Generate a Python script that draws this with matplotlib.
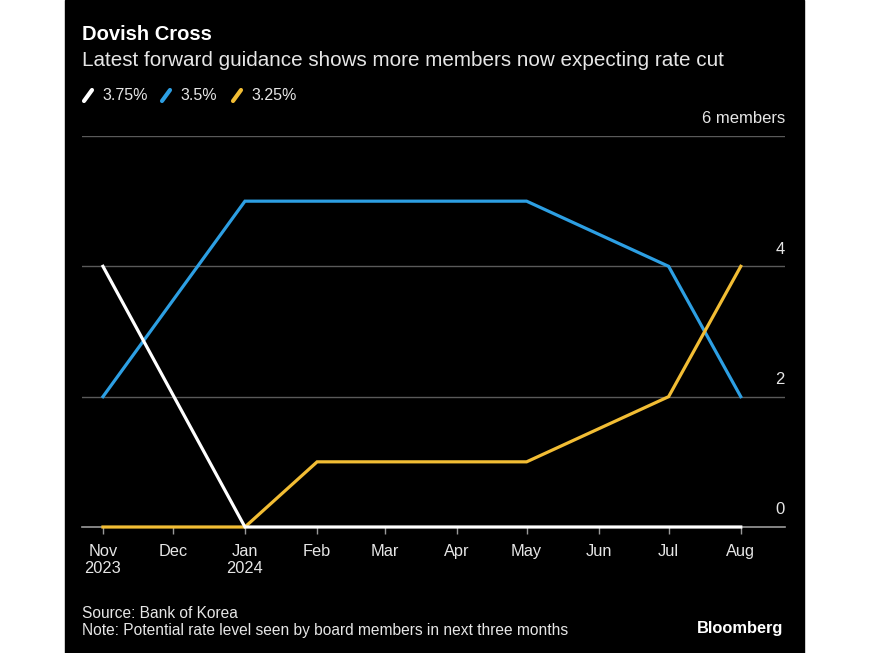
import matplotlib
matplotlib.use("Agg")
import matplotlib.pyplot as plt
from matplotlib.lines import Line2D
import numpy as np

plt.rcParams['font.family'] = ['Liberation Sans', 'DejaVu Sans']

months = np.array(['2023-11-01', '2024-01-01', '2024-02-01', '2024-04-01',
                   '2024-05-01', '2024-07-01', '2024-08-01'], dtype='datetime64[D]')
rate_375 = [4, 0, 0, 0, 0, 0, 0]
rate_350 = [2, 5, 5, 5, 5, 4, 2]
rate_325 = [0, 0, 1, 1, 1, 2, 4]

tick_months = np.arange(np.datetime64('2023-11'), np.datetime64('2024-09'),
                        dtype='datetime64[M]').astype('datetime64[D]')
tick_labels = ['Nov\n2023', 'Dec', 'Jan\n2024', 'Feb', 'Mar', 'Apr',
               'May', 'Jun', 'Jul', 'Aug']
y_ticks = [0, 2, 4, 6]
y_labels = ['0', '2', '4', '6 members']

BG = '#000000'
WHITE = '#ffffff'
BLUE = '#2d9fe3'
YELLOW = '#f2bd34'
GRID = '#5a5a5a'
TXT = '#e6e6e6'

W, H = 870, 653
fig = plt.figure(figsize=(W / 100, H / 100), dpi=100, facecolor='white')
# black panel
fig.patches.append(plt.Rectangle((65 / W, 0), (804 - 65) / W, 1,
                                 transform=fig.transFigure, color=BG, zorder=-5))

ax = fig.add_axes([82 / W, (H - 527) / H, (785 - 82) / W, (527 - 136) / H])
ax.set_facecolor('none')
ax.set_zorder(2)

ax.plot(months, rate_350, color=BLUE, lw=2.3, zorder=3, clip_on=False,
        solid_joinstyle='miter')
ax.plot(months, rate_325, color=YELLOW, lw=2.3, zorder=4, clip_on=False,
        solid_joinstyle='miter')
ax.plot(months, rate_375, color=WHITE, lw=2.3, zorder=5, clip_on=False,
        solid_joinstyle='miter')

ax.set_xlim(np.datetime64('2023-10-23'), np.datetime64('2024-08-20'))
ax.set_ylim(0, 6)

for s in ['top', 'right', 'left']:
    ax.spines[s].set_visible(False)
ax.spines['bottom'].set_color('#9a9a9a')
ax.spines['bottom'].set_linewidth(1.2)

for y in y_ticks[1:]:
    ax.axhline(y, color=GRID, lw=1, zorder=1)

ax.set_yticks([])
for y, lab in zip(y_ticks, y_labels):
    ax.annotate(lab, xy=(1, y), xycoords=('axes fraction', 'data'),
                xytext=(0, 7), textcoords='offset points',
                ha='right', va='bottom', color=TXT, fontsize=12)

ax.set_xticks(tick_months)
ax.set_xticklabels(tick_labels, color=TXT, fontsize=11.8, linespacing=1.2)
ax.tick_params(axis='x', length=5, width=1, color='#9a9a9a', pad=7)

# titles
fig.text(82 / W, 1 - 35 / H, 'Dovish Cross', color=WHITE, fontsize=14.5,
         fontweight='bold', va='center', ha='left')
fig.text(82 / W, 1 - 61 / H,
         'Latest forward guidance shows more members now expecting rate cut',
         color=TXT, fontsize=14.9, va='center', ha='left')

# legend
legend_items = [('3.75%', WHITE, 84), ('3.5%', BLUE, 162), ('3.25%', YELLOW, 233)]
for lab, col, x0 in legend_items:
    fig.add_artist(Line2D([x0 / W, (x0 + 8) / W], [1 - 101 / H, 1 - 90 / H],
                          transform=fig.transFigure, color=col, lw=3,
                          solid_capstyle='round'))
    fig.text((x0 + 18) / W, 1 - 95 / H, lab, color=TXT, fontsize=11.5,
             va='center', ha='left')

# footer
fig.text(82 / W, 1 - 613 / H, 'Source: Bank of Korea', color=TXT,
         fontsize=11.2, va='center', ha='left')
fig.text(82 / W, 1 - 631 / H,
         'Note: Potential rate level seen by board members in next three months',
         color=TXT, fontsize=11.2, va='center', ha='left')
fig.text(783 / W, 1 - 628 / H, 'Bloomberg', color=WHITE, fontsize=11.8,
         fontweight='bold', va='center', ha='right')

fig.savefig('out.png', dpi=100, facecolor='white')
